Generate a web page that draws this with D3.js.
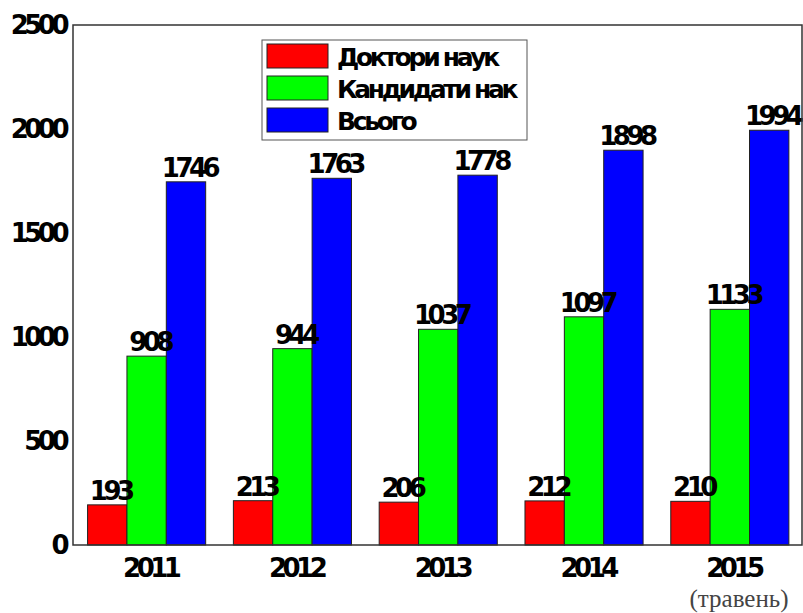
<!DOCTYPE html>
<html>
<head>
<meta charset="utf-8">
<script src="https://cdn.jsdelivr.net/npm/d3@7"></script>
<style>
  body { margin: 0; background: #fff; }
  svg text { font-family: "DejaVu Sans", sans-serif; }
</style>
</head>
<body>
<svg id="chart" width="803" height="613"></svg>
<script>
const years = ["2011", "2012", "2013", "2014", "2015"];
const doctors = [193, 213, 206, 212, 210];
const candidates = [908, 944, 1037, 1097, 1133];
const total = [1746, 1763, 1778, 1898, 1994];
const seriesNames = ["Доктори наук", "Кандидати нак", "Всього"];
const seriesColors = ["#ff0000", "#00ff00", "#0000ff"];
const yTicks = [0, 500, 1000, 1500, 2000, 2500];

const series = [doctors, candidates, total];

const svg = d3.select("#chart");
const margin = { top: 25, right: 1, bottom: 68, left: 73 };
const width = 803, height = 613;

const x = d3.scaleLinear().domain([0, years.length]).range([margin.left, width - margin.right]);
const y = d3.scaleLinear().domain([0, 2500]).range([height - margin.bottom, margin.top]);
const barW = 0.27;

// bars first, labels after so they sit on top
series.forEach((vals, s) => {
  svg.append("g")
    .selectAll("rect")
    .data(vals)
    .join("rect")
    .attr("x", (d, i) => x(i + 0.1 + s * barW))
    .attr("width", x(barW) - x(0))
    .attr("y", d => y(d))
    .attr("height", d => y(0) - y(d))
    .attr("fill", seriesColors[s])
    .attr("stroke", "#222")
    .attr("stroke-width", 1);
});

series.forEach((vals, s) => {
  svg.append("g")
    .selectAll("text")
    .data(vals)
    .join("text")
    .attr("x", (d, i) => x(i + 0.1 + (s + 0.5) * barW) + 3)
    .attr("y", d => y(d) - 5)
    .attr("text-anchor", "middle")
    .attr("font-size", 26)
    .attr("letter-spacing", -4.5)
    .attr("font-weight", "bold")
    .text(d => d);
});

// frame
svg.append("rect")
  .attr("x", margin.left)
  .attr("y", margin.top)
  .attr("width", width - margin.right - margin.left)
  .attr("height", height - margin.bottom - margin.top)
  .attr("fill", "none")
  .attr("stroke", "#333")
  .attr("stroke-width", 1.5);

// y tick labels
svg.append("g")
  .selectAll("text")
  .data(yTicks)
  .join("text")
  .attr("x", margin.left - 8)
  .attr("y", d => y(d) + 9)
  .attr("text-anchor", "end")
  .attr("font-size", 26)
  .attr("letter-spacing", -4.5)
  .attr("font-weight", "bold")
  .text(d => d);

// x tick labels
svg.append("g")
  .selectAll("text")
  .data(years)
  .join("text")
  .attr("x", (d, i) => x(i + 0.53))
  .attr("y", 577)
  .attr("text-anchor", "middle")
  .attr("font-size", 26)
  .attr("letter-spacing", -4.5)
  .attr("font-weight", "bold")
  .text(d => d);

svg.append("text")
  .attr("x", 739)
  .attr("y", 607)
  .attr("text-anchor", "middle")
  .attr("font-size", 25)
  .attr("fill", "#444")
  .style("font-family", "'Liberation Serif', serif")
  .text("(травень)");

// legend
const legend = svg.append("g").attr("transform", "translate(262,40)");
legend.append("rect")
  .attr("width", 265)
  .attr("height", 100)
  .attr("fill", "#fff")
  .attr("stroke", "#555")
  .attr("stroke-width", 1);

seriesNames.forEach((name, i) => {
  const row = legend.append("g").attr("transform", `translate(5,${4 + i * 32})`);
  row.append("rect")
    .attr("width", 61)
    .attr("height", 24)
    .attr("fill", seriesColors[i])
    .attr("stroke", "#222");
  row.append("text")
    .attr("x", 70)
    .attr("y", 22)
    .attr("font-size", 25)
    .attr("letter-spacing", -3.3)
    .attr("font-weight", "bold")
    .text(name);
});
</script>
</body>
</html>
